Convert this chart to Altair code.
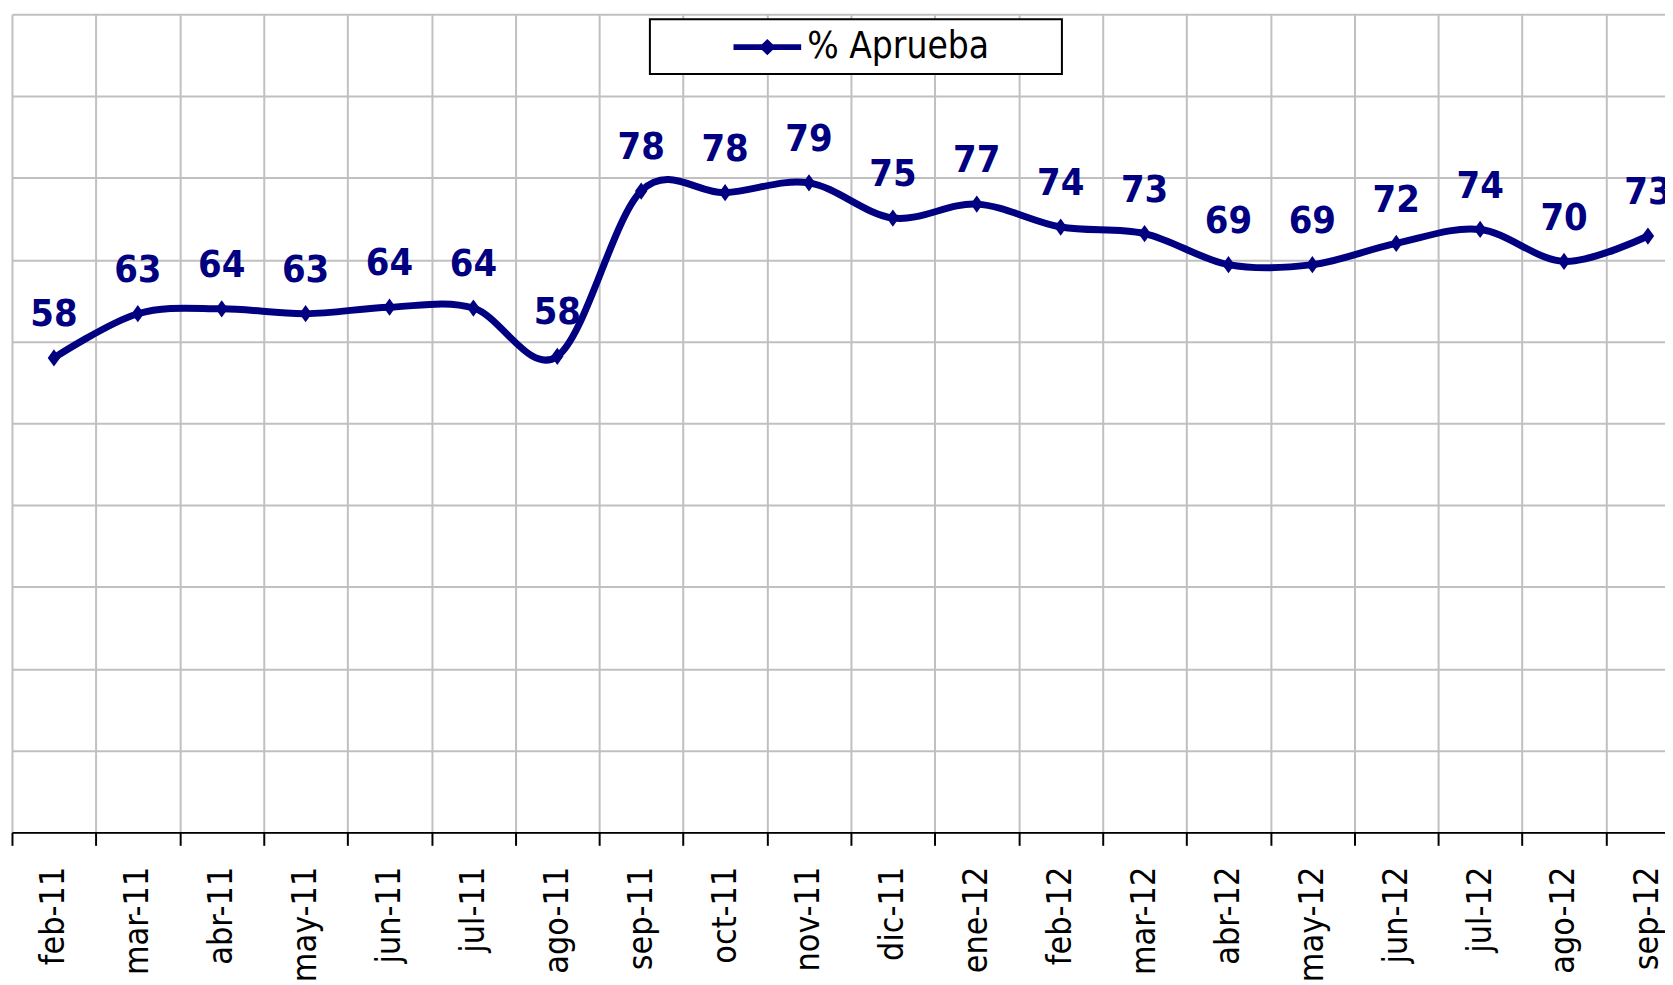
import altair as alt
import pandas as pd

meses = ["feb-11", "mar-11", "abr-11", "may-11", "jun-11", "jul-11", "ago-11",
         "sep-11", "oct-11", "nov-11", "dic-11", "ene-12", "feb-12", "mar-12",
         "abr-12", "may-12", "jun-12", "jul-12", "ago-12", "sep-12"]
aprueba = [58.0, 63.4, 64.0, 63.4, 64.2, 64.1, 58.2, 78.4, 78.2, 79.4, 75.1,
           76.8, 74.0, 73.2, 69.4, 69.4, 72.0, 73.7, 69.8, 72.9]
serie = "% Aprueba"

NAVY = "#000080"
GRID = "#c0c0c0"
FONT = "DejaVu Sans Condensed, DejaVu Sans"

df = pd.DataFrame({"mes": meses, "valor": aprueba, "serie": serie})

x = alt.X("mes:N", sort=meses, title=None,
          scale=alt.Scale(type="band", paddingInner=0, paddingOuter=0, range=[0, 1686]),
          axis=alt.Axis(grid=True, tickBand="extent", gridColor=GRID, gridWidth=2,
                        domainColor="black", domainWidth=2, tickColor="black",
                        tickWidth=2, tickSize=13, labelAngle=-90, labelFontSize=34,
                        labelFont=FONT, labelColor="black", labelPadding=21,
                        labelAlign="right", labelBaseline="middle"))
y = alt.Y("valor:Q", title=None,
          scale=alt.Scale(domain=[0, 100], nice=False, zero=True),
          axis=alt.Axis(values=list(range(0, 101, 10)), grid=True, gridColor=GRID,
                        gridWidth=2, labels=False, ticks=False, domain=False))

base = alt.Chart(df)

# legend frame (white box with black border, behind the legend entry)
frame = alt.Chart(pd.DataFrame({"serie": [serie]})).mark_rect(
    fill="white", stroke="black", strokeWidth=2
).encode(x=alt.value(641), x2=alt.value(1055), y=alt.value(5), y2=alt.value(60))

line = base.mark_line(interpolate="cardinal", tension=0, strokeWidth=7,
                      color=NAVY).encode(x=x, y=y)

SYM = ("M-1,-0.085L-0.16,-0.085L0,-0.24L0.16,-0.085L1,-0.085L1,0.085"
       "L0.16,0.085L0,0.24L-0.16,0.085L-1,0.085Z")
DIAMOND = "M0,-1L0.72,0L0,1L-0.72,0Z"

points = base.mark_point(shape=DIAMOND, filled=True, size=300, opacity=1).encode(
    x=x, y=y,
    color=alt.Color("serie:N", scale=alt.Scale(range=[NAVY]),
                    legend=alt.Legend(title=None, orient="none", legendX=641,
                                      legendY=-4, symbolType=SYM, symbolSize=4624,
                                      symbolStrokeWidth=0, symbolOpacity=1,
                                      labelFontSize=37, labelFont=FONT,
                                      labelColor="black", labelOffset=6,
                                      labelLimit=0, padding=3, symbolOffset=81))
)

labels = base.mark_text(fontSize=38, fontWeight="bold", font=FONT, color=NAVY,
                        baseline="alphabetic", dy=-32).encode(
    x=x, y=y, text=alt.Text("valor:Q", format=".0f"))

chart = alt.layer(frame, line, points, labels).properties(
    width=1661, height=822,
    autosize=alt.AutoSizeParams(type="none"),
    padding={"left": 4, "top": 4, "right": 0, "bottom": 151},
).configure_view(stroke=None)

chart.save("out.html", embed_options={"renderer": "svg", "actions": False})
